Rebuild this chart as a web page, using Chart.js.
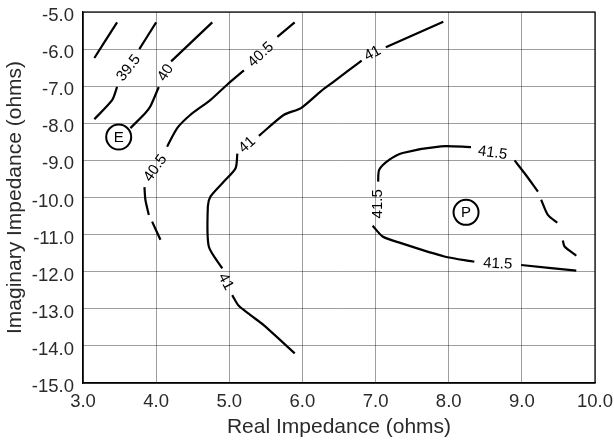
<!DOCTYPE html>
<html>
<head>
<meta charset="utf-8">
<script src="https://cdn.jsdelivr.net/npm/chart.js@4.4.0/dist/chart.umd.min.js"></script>
<style>
    html, body { margin: 0; padding: 0; background: #fff; }
    #wrap { width: 614px; height: 440px; }
</style>
</head>
<body>
<div id="wrap"><canvas id="chart"></canvas></div>
<script>
// Axis ranges and tick labels
const xTicks = [3, 4, 5, 6, 7, 8, 9, 10];
const yTicks = [-15, -14, -13, -12, -11, -10, -9, -8, -7, -6, -5];

// Contour segments [real, imaginary], broken where the labels sit
const seg395a = [[3.155, -6.24], [3.466, -5.28]];
const seg395b = [[3.155, -7.89], [3.40, -7.37], [3.466, -7.02]];
const seg40a = [[3.77, -6.0], [4.0, -5.28]];
const seg40b = [[4.205, -6.33], [4.767, -5.28]];
const seg40c = [[4.036, -7.02], [3.92, -7.55], [3.853, -7.72], [3.648, -8.13]];
const seg405a = [[5.657, -5.67], [5.894, -5.28]];
const seg405b = [[5.2, -6.575], [4.97, -6.96], [4.744, -7.37], [4.47, -7.77], [4.288, -8.13], [4.15, -8.63]];
const seg405c = [[3.84, -9.72], [3.853, -10.06], [3.90, -10.47]];
const seg405d = [[3.945, -10.65], [4.059, -11.14]];
const seg41a = [[7.14, -5.95], [7.926, -5.26]];
const seg41b = [[6.81, -6.31], [6.433, -6.87], [6.25, -7.14], [5.98, -7.59], [5.748, -7.77], [5.405, -8.34]];
const seg41c = [[5.11, -8.82], [5.086, -9.21], [4.926, -9.57], [4.744, -9.97], [4.707, -10.24], [4.72, -11.32], [4.904, -11.91]];
const seg41d = [[5.04, -12.63], [5.13, -12.92], [5.29, -13.17], [5.47, -13.44], [5.895, -14.2]];
const seg415a = [[7.035, -9.57], [7.05, -9.25], [7.19, -8.98], [7.37, -8.80], [7.895, -8.62], [8.305, -8.64]];
const seg415b = [[8.90, -9.0], [9.035, -9.34], [9.22, -9.84]];
const seg415c = [[9.264, -10.06], [9.356, -10.47], [9.484, -10.68]];
const seg415d = [[9.56, -11.16], [9.584, -11.32], [9.744, -11.57]];
const seg415e = [[6.96, -10.76], [7.096, -11.05], [7.347, -11.23], [7.94, -11.59], [8.35, -11.73]];
const seg415f = [[8.99, -11.82], [9.744, -11.97]];

// Contour level labels
const labelText = ['39.5', '40', '40.5', '40.5', '41', '41', '41', '41.5', '41.5', '41.5'];
const labelX = [3.625, 4.13, 5.43, 3.99, 6.96, 5.246, 4.95, 7.027, 8.60, 8.67];
const labelY = [-6.51, -6.64, -6.15, -9.21, -6.12, -8.58, -12.27, -10.17, -8.80, -11.79];
const labelAngle = [-52, -58, -43, -55, -28, -42, 62, -90, 8, 3];

// Circled markers
const markerText = ['E', 'P'];
const markerX = [3.488, 8.237];
const markerY = [-8.37, -10.40];

const FONT = '"Liberation Sans", Arial, sans-serif';

const segments = [seg395a, seg395b, seg40a, seg40b, seg40c, seg405a, seg405b, seg405c, seg405d,
    seg41a, seg41b, seg41c, seg41d, seg415a, seg415b, seg415c, seg415d, seg415e, seg415f];

const datasets = segments.map(seg => ({
    data: seg.map(p => ({ x: p[0], y: p[1] })),
    showLine: true,
    borderColor: '#000',
    borderWidth: 2.2,
    pointRadius: 0,
    tension: 0.25,
    fill: false
}));

// Frame around the plot area
const framePlugin = {
    id: 'frame',
    afterDraw(chart) {
        const { ctx, chartArea: a } = chart;
        ctx.save();
        ctx.strokeStyle = '#000';
        ctx.lineWidth = 1.2;
        ctx.strokeRect(a.left, a.top, a.right - a.left, a.bottom - a.top);
        ctx.restore();
    }
};

// Contour labels and circled markers
const annotatePlugin = {
    id: 'annotate',
    afterDatasetsDraw(chart) {
        const { ctx, scales } = chart;
        ctx.save();
        ctx.fillStyle = '#000';
        ctx.font = '15px ' + FONT;
        ctx.textAlign = 'center';
        ctx.textBaseline = 'middle';
        labelText.forEach((t, i) => {
            const px = scales.x.getPixelForValue(labelX[i]);
            const py = scales.y.getPixelForValue(labelY[i]);
            ctx.save();
            ctx.translate(px, py);
            ctx.rotate(labelAngle[i] * Math.PI / 180);
            ctx.fillText(t, 0, 0);
            ctx.restore();
        });
        markerText.forEach((t, i) => {
            const px = scales.x.getPixelForValue(markerX[i]);
            const py = scales.y.getPixelForValue(markerY[i]);
            ctx.beginPath();
            ctx.arc(px, py, 12.5, 0, Math.PI * 2);
            ctx.fillStyle = '#fff';
            ctx.fill();
            ctx.lineWidth = 2;
            ctx.strokeStyle = '#000';
            ctx.stroke();
            ctx.fillStyle = '#000';
            ctx.font = '15px ' + FONT;
            ctx.fillText(t, px, py + 1);
        });
        ctx.restore();
    }
};

new Chart(document.getElementById('chart'), {
    type: 'scatter',
    data: { datasets: datasets },
    options: {
        responsive: true,
        maintainAspectRatio: false,
        animation: false,
        layout: { padding: { top: 12, right: 19, left: 0, bottom: 0 } },
        plugins: {
            legend: { display: false },
            tooltip: { enabled: false }
        },
        scales: {
            x: {
                type: 'linear',
                min: 3,
                max: 10,
                afterBuildTicks: s => { s.ticks = xTicks.map(v => ({ value: v })); },
                afterFit: s => {
                    s.height = 57;
                    s.paddingLeft = 0;
                    s.paddingRight = 0;
                },
                grid: { color: 'rgba(0,0,0,0.38)', lineWidth: 1, drawTicks: false },
                border: { color: '#000', width: 1.2 },
                ticks: {
                    padding: 8,
                    color: '#2a2a2a',
                    font: { family: FONT, size: 18.5 },
                    callback: v => v.toFixed(1)
                },
                title: {
                    display: true,
                    text: 'Real Impedance (ohms)',
                    color: '#2a2a2a',
                    font: { family: FONT, size: 21 },
                    padding: { top: 0, bottom: 0 }
                }
            },
            y: {
                type: 'linear',
                min: -15,
                max: -5,
                afterBuildTicks: s => { s.ticks = yTicks.map(v => ({ value: v })); },
                afterFit: s => {
                    s.width = 83;
                    s.paddingTop = 0;
                    s.paddingBottom = 0;
                },
                grid: { color: 'rgba(0,0,0,0.38)', lineWidth: 1, drawTicks: false },
                border: { color: '#000', width: 1.2 },
                ticks: {
                    padding: 9,
                    labelOffset: 4,
                    color: '#2a2a2a',
                    font: { family: FONT, size: 18.5 },
                    callback: v => v.toFixed(1)
                },
                title: {
                    display: true,
                    text: 'Imaginary Impedance (ohms)',
                    color: '#2a2a2a',
                    font: { family: FONT, size: 21 },
                    padding: { top: 3, bottom: 0 }
                }
            }
        }
    },
    plugins: [framePlugin, annotatePlugin]
});
</script>
</body>
</html>
